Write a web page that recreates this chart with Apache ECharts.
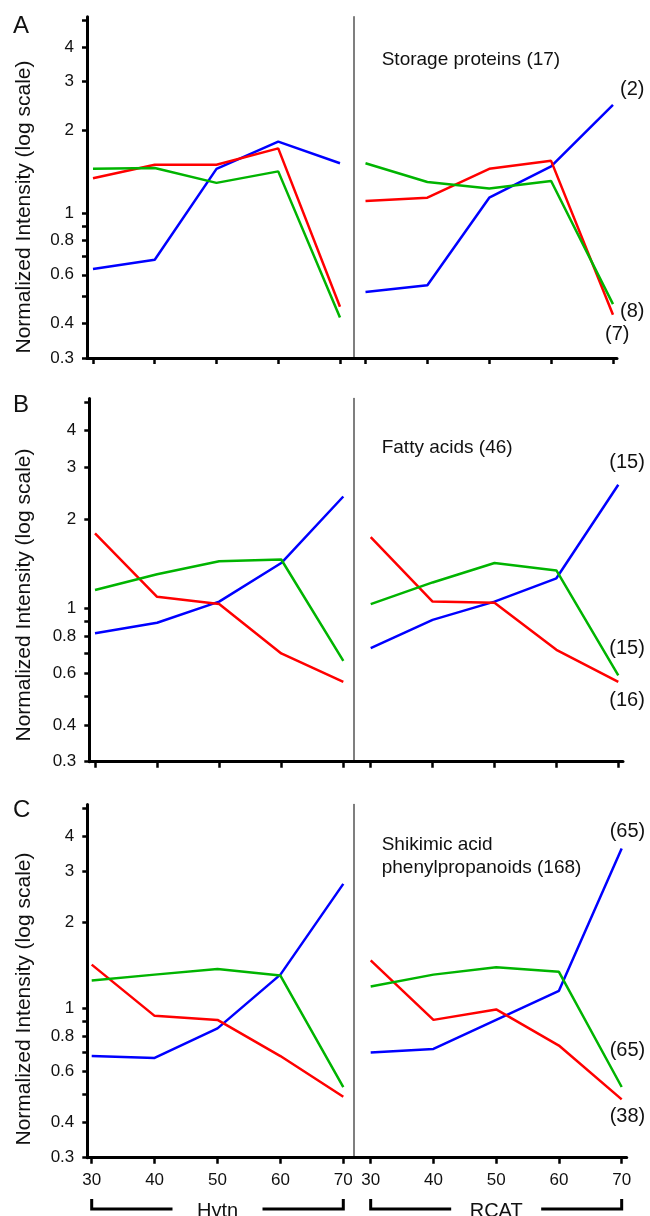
<!DOCTYPE html>
<html>
<head>
<meta charset="utf-8">
<script src="https://cdn.jsdelivr.net/npm/echarts@6/dist/echarts.min.js"></script>
<style>
html, body { margin: 0; padding: 0; background: #fff; }
#main { width: 650px; height: 1216px; }
</style>
</head>
<body>
<div id="main"></div>
<script>
// ---- data ----
var ages = [30, 40, 50, 60, 70];
var yTickValues = [0.3, 0.4, 0.5, 0.6, 0.7, 0.8, 0.9, 1, 2, 3, 4, 5];
var yLabelValues = [0.3, 0.4, 0.6, 0.8, 1, 2, 3, 4];
var groupNames = ['Hytn', 'RCAT'];
var panelLetters = ['A', 'B', 'C'];
var classNames = [['Storage proteins (17)'], ['Fatty acids (46)'], ['Shikimic acid', 'phenylpropanoids (168)']];

// storage proteins (blue, red, green)
var storageHytnBlue = [0.63, 0.68, 1.45, 1.82, 1.52];
var storageHytnRed = [1.34, 1.50, 1.50, 1.72, 0.46];
var storageHytnGreen = [1.45, 1.46, 1.29, 1.42, 0.42];
var storageRcatBlue = [0.52, 0.55, 1.14, 1.48, 2.47];
var storageRcatRed = [1.11, 1.14, 1.45, 1.55, 0.43];
var storageRcatGreen = [1.52, 1.30, 1.23, 1.31, 0.47];
var storageCounts = ['(2)', '(7)', '(8)'];

// fatty acids
var fattyHytnBlue = [0.82, 0.89, 1.05, 1.42, 2.39];
var fattyHytnRed = [1.79, 1.09, 1.03, 0.70, 0.56];
var fattyHytnGreen = [1.15, 1.30, 1.44, 1.46, 0.66];
var fattyRcatBlue = [0.73, 0.91, 1.05, 1.26, 2.62];
var fattyRcatRed = [1.74, 1.05, 1.04, 0.72, 0.56];
var fattyRcatGreen = [1.03, 1.22, 1.42, 1.34, 0.59];
var fattyCounts = ['(15)', '(16)', '(15)'];

// shikimic acid / phenylpropanoids
var shikHytnBlue = [0.68, 0.67, 0.85, 1.31, 2.72];
var shikHytnRed = [1.42, 0.94, 0.91, 0.68, 0.49];
var shikHytnGreen = [1.25, 1.31, 1.37, 1.30, 0.53];
var shikRcatBlue = [0.70, 0.72, 0.91, 1.15, 3.62];
var shikRcatRed = [1.47, 0.91, 0.99, 0.74, 0.48];
var shikRcatGreen = [1.19, 1.31, 1.39, 1.34, 0.53];
var shikCounts = ['(65)', '(38)', '(65)'];

var FONT = '"Liberation Sans", Arial, sans-serif';
var COLORS = ['#0000ff', '#ff0000', '#00b400'];

var panelData = [
    [[storageHytnBlue, storageHytnRed, storageHytnGreen], [storageRcatBlue, storageRcatRed, storageRcatGreen], storageCounts],
    [[fattyHytnBlue, fattyHytnRed, fattyHytnGreen], [fattyRcatBlue, fattyRcatRed, fattyRcatGreen], fattyCounts],
    [[shikHytnBlue, shikHytnRed, shikHytnGreen], [shikRcatBlue, shikRcatRed, shikRcatGreen], shikCounts]
];

// layout of each row (pixels)
var rows = [
    {top: 16.7, height: 341.3, left: 87, mid: 354, right: 617, xl: [29.03, 72.27], xr: [28.14, 70.65],
        letterY: 28, nameY: 207, textY: 60, countOffsets: [[7, -15], [-8, 20], [7, 7]]},
    {top: 398.4, height: 363.3, left: 89.3, mid: 354, right: 623, xl: [29.08, 71.72], xr: [27.3, 70.76],
        letterY: 407, nameY: 595, textY: 448, countOffsets: [[-9, -22], [-9, 19], [-9, -27]]},
    {top: 804.6, height: 353.1, left: 87.3, mid: 353.3, right: 626.7, xl: [29.3, 71.59], xr: [27.23, 70.8],
        letterY: 812, nameY: 999, textY: 845, countOffsets: [[-12, -17], [-12, 17], [-12, -37]]}
];

function toPairs(values) {
    return values.map(function(v, i) { return [ages[i], v]; });
}

var grids = [], xAxes = [], yAxes = [], series = [], graphics = [];

rows.forEach(function(row, r) {
    [0, 1].forEach(function(side) {
        var idx = r * 2 + side;
        var gl = side === 0 ? row.left : row.mid;
        var gr = side === 0 ? row.mid : row.right;
        grids.push({left: gl, top: row.top, width: gr - gl, height: row.height});

        xAxes.push({
            type: 'value',
            gridIndex: idx,
            min: side === 0 ? row.xl[0] : row.xr[0],
            max: side === 0 ? row.xl[1] : row.xr[1],
            splitLine: {show: false},
            axisLine: {show: true, lineStyle: {color: '#000', width: 3}},
            axisTick: {show: true, inside: false, length: 6, customValues: ages, lineStyle: {color: '#000', width: 2.5}},
            axisLabel: {show: r === 2, customValues: ages, margin: 14, fontSize: 17, fontFamily: FONT, color: '#111'}
        });

        yAxes.push({
            type: 'log',
            gridIndex: idx,
            min: 0.3,
            max: 5.15,
            splitLine: {show: false},
            axisLine: {show: true, lineStyle: side === 0 ? {color: '#000', width: 3} : {color: '#555', width: 1.5}},
            axisTick: {show: side === 0, inside: false, length: 5, customValues: yTickValues, lineStyle: {color: '#000', width: 2.5}},
            axisLabel: {
                show: side === 0, customValues: yLabelValues, margin: 13, fontSize: 17, fontFamily: FONT, color: '#111',
                formatter: function(v) { return String(+(+v).toFixed(2)); }
            }
        });

        panelData[r][side].forEach(function(vals, c) {
            series.push({
                type: 'line',
                xAxisIndex: idx,
                yAxisIndex: idx,
                data: toPairs(vals),
                symbol: 'none',
                silent: true,
                clip: false,
                lineStyle: {color: COLORS[c], width: 2.5},
                endLabel: {
                    show: side === 1,
                    formatter: panelData[r][2][c],
                    distance: 0,
                    offset: row.countOffsets[c],
                    fontSize: 20,
                    fontFamily: FONT,
                    color: '#111'
                }
            });
        });
    });

    graphics.push({
        type: 'text', left: 13, top: row.letterY - 14,
        style: {text: panelLetters[r], fontSize: 24, fontFamily: FONT, fill: '#111'}
    });
    graphics.push({
        type: 'text', x: 24, y: row.nameY, rotation: Math.PI / 2,
        style: {text: 'Normalized Intensity (log scale)', fontSize: 21, fontFamily: FONT, fill: '#111',
            align: 'center', verticalAlign: 'middle'}
    });
    classNames[r].forEach(function(line, k) {
        graphics.push({
            type: 'text', x: 381.7, y: row.textY + k * 22.3,
            style: {text: line, fontSize: 19, fontFamily: FONT, fill: '#111', align: 'left', verticalAlign: 'middle'}
        });
    });
});

var myChart = echarts.init(document.getElementById('main'), null, {renderer: 'canvas'});

option = {
    animation: false,
    backgroundColor: '#fff',
    grid: grids,
    xAxis: xAxes,
    yAxis: yAxes,
    series: series,
    graphic: graphics
};
myChart.setOption(option);

// brackets under the bottom row, positioned from the x axes
var bracketY = 1209;
[0, 1].forEach(function(side) {
    var axisIdx = 4 + side;
    var x0 = myChart.convertToPixel({xAxisIndex: axisIdx}, ages[0]);
    var x1 = myChart.convertToPixel({xAxisIndex: axisIdx}, ages[ages.length - 1]);
    var cx = (x0 + x1) / 2;
    graphics.push({
        type: 'polyline', shape: {points: [[x0, bracketY - 10], [x0, bracketY], [cx - 45, bracketY]]},
        style: {stroke: '#000', lineWidth: 3, fill: null}
    });
    graphics.push({
        type: 'polyline', shape: {points: [[cx + 45, bracketY], [x1, bracketY], [x1, bracketY - 10]]},
        style: {stroke: '#000', lineWidth: 3, fill: null}
    });
    graphics.push({
        type: 'text', x: cx, y: 1211,
        style: {text: groupNames[side], fontSize: 20, fontFamily: FONT, fill: '#111', align: 'center', verticalAlign: 'middle'}
    });
});
myChart.setOption({graphic: graphics});
</script>
</body>
</html>
